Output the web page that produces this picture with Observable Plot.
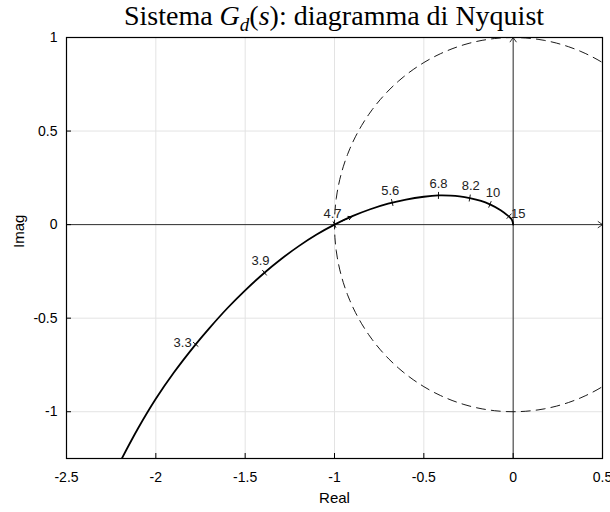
<!DOCTYPE html>
<html><head><meta charset="utf-8">
<script src="https://cdn.jsdelivr.net/npm/d3@7"></script>
<script src="https://cdn.jsdelivr.net/npm/@observablehq/plot@0.6"></script>
<style>
body{margin:0;background:#fff;}
#wrap{position:relative;width:610px;height:512px;}
#title{position:absolute;left:66px;width:536px;top:1px;text-align:center;font-family:"Liberation Serif","DejaVu Serif",serif;font-size:28px;line-height:30px;color:#000;white-space:nowrap;}
#title .sub{font-size:19px;font-style:italic;position:relative;top:6px;}
</style></head><body>
<div id="wrap"><div id="title">Sistema <i>G</i><span class="sub">d</span>(<i>s</i>): diagramma di Nyquist</div><div id="chart"></div></div>
<script>
// axis ticks
const xTicks = [-2.5, -2, -1.5, -1, -0.5, 0, 0.5];
const yTicks = [-1, -0.5, 0, 0.5, 1];
const xDomain = [-2.5, 0.5];
const yDomain = [-1.25, 1];

// Nyquist curve
const curveRe = [-2.193, -2.1, -2.0, -1.9, -1.777, -1.7, -1.6, -1.5, -1.392, -1.3, -1.2, -1.1, -1.0, -0.9, -0.8, -0.7, -0.6, -0.5, -0.418, -0.35, -0.3, -0.243, -0.18, -0.13, -0.07, -0.03, -0.01, -0.003, 0];
const curveIm = [-1.255, -1.09, -0.931, -0.792, -0.640, -0.553, -0.447, -0.351, -0.257, -0.185, -0.115, -0.053, 0.0, 0.045, 0.082, 0.112, 0.134, 0.149, 0.156, 0.155, 0.151, 0.142, 0.127, 0.108, 0.077, 0.048, 0.030, 0.016, 0];

// frequency markers
const freqLabels = ["3.3", "3.9", "4.7", "5.6", "6.8", "8.2", "10", "15"];
const freqRe = [-1.777, -1.392, -1.0, -0.677, -0.418, -0.243, -0.13, -0.023];
const freqIm = [-0.640, -0.257, 0.0, 0.118, 0.156, 0.142, 0.108, 0.045];

// direction arrow on the curve
const arrowRe = [-0.96, -0.905];
const arrowIm = [0.018, 0.042];

// unit circle
const circleCenter = [0, 0];
const circleRadius = 1;

// layout
const W = 610, H = 512, mL = 66, mR = 8, mT = 37, mB = 54;
const kx = (W - mL - mR) / (xDomain[1] - xDomain[0]);
const ky = (H - mT - mB) / (yDomain[1] - yDomain[0]);

const curve = curveRe.map((x, i) => ({x, y: curveIm[i]}));
const circle = d3.range(0, 361, 2).map(a => ({
  x: circleCenter[0] + circleRadius * Math.cos(a * Math.PI / 180),
  y: circleCenter[1] + circleRadius * Math.sin(a * Math.PI / 180)
}));

// perpendicular tick marks on the curve at frequency markers
function tangentAt(x, y) {
  let best = 0, bd = Infinity;
  for (let i = 0; i < curve.length - 1; i++) {
    const mx = (curve[i].x + curve[i + 1].x) / 2, my = (curve[i].y + curve[i + 1].y) / 2;
    const d = (mx - x) ** 2 + (my - y) ** 2;
    if (d < bd) { bd = d; best = i; }
  }
  const a = curve[best], b = curve[best + 1];
  let px = (b.x - a.x) * kx, py = (b.y - a.y) * ky;
  const n = Math.hypot(px, py);
  return [px / n, py / n];
}
const tickLen = 3.5;
const freqMarks = freqLabels.map((t, i) => {
  const [tx, ty] = tangentAt(freqRe[i], freqIm[i]);
  const nx = -ty, ny = tx;
  return {
    label: t, x: freqRe[i], y: freqIm[i],
    x1: freqRe[i] - nx * tickLen / kx, y1: freqIm[i] - ny * tickLen / ky,
    x2: freqRe[i] + nx * tickLen / kx, y2: freqIm[i] + ny * tickLen / ky
  };
});
// label placement styles
const labelStyle = {
  "3.3": {dx: -4, dy: -2, textAnchor: "end"},
  "3.9": {dx: -4, dy: -12, textAnchor: "middle"},
  "4.7": {dx: -2, dy: -11, textAnchor: "middle"},
  "5.6": {dx: -2, dy: -12, textAnchor: "middle"},
  "6.8": {dx: 0, dy: -12, textAnchor: "middle"},
  "8.2": {dx: 1, dy: -12, textAnchor: "middle"},
  "10": {dx: 3, dy: -12, textAnchor: "middle"},
  "15": {dx: 2, dy: -2, textAnchor: "start"}
};
const labelMarks = freqMarks.map(d => Plot.text([d], {
  x: "x", y: "y", text: "label", fontSize: 13, fill: "#222",
  dx: labelStyle[d.label].dx, dy: labelStyle[d.label].dy,
  textAnchor: labelStyle[d.label].textAnchor, lineAnchor: "middle"
}));

const chart = Plot.plot({
  width: W, height: H,
  marginLeft: mL, marginRight: mR, marginTop: mT, marginBottom: mB,
  style: {fontFamily: "'Liberation Sans', Arial, sans-serif", fontSize: "14px", background: "#fff", color: "#000", overflow: "visible"},
  x: {domain: xDomain},
  y: {domain: yDomain},
  marks: [
    Plot.gridX({ticks: xTicks, stroke: "#e3e3e3", strokeOpacity: 1, strokeWidth: 1}),
    Plot.gridY({ticks: yTicks, stroke: "#e3e3e3", strokeOpacity: 1, strokeWidth: 1}),
    Plot.line(circle, {x: "x", y: "y", stroke: "#000", strokeWidth: 0.9, strokeDasharray: "9,6", clip: true}),
    Plot.arrow([{x1: xDomain[0], y1: 0, x2: xDomain[1], y2: 0}], {x1: "x1", y1: "y1", x2: "x2", y2: "y2", stroke: "#000", strokeWidth: 0.8, headLength: 10, headAngle: 70}),
    Plot.arrow([{x1: 0, y1: yDomain[0], x2: 0, y2: yDomain[1]}], {x1: "x1", y1: "y1", x2: "x2", y2: "y2", stroke: "#000", strokeWidth: 0.8, headLength: 10, headAngle: 70}),
    Plot.line(curve, {x: "x", y: "y", stroke: "#000", strokeWidth: 1.8, curve: "catmull-rom", clip: true}),
    Plot.arrow([{x1: arrowRe[0], y1: arrowIm[0], x2: arrowRe[1], y2: arrowIm[1]}], {x1: "x1", y1: "y1", x2: "x2", y2: "y2", stroke: "#000", strokeWidth: 1, headLength: 9, headAngle: 60}),
    Plot.link(freqMarks, {x1: "x1", y1: "y1", x2: "x2", y2: "y2", stroke: "#000", strokeWidth: 0.9}),
    ...labelMarks,
    Plot.axisX({ticks: xTicks, tickSize: 5, dy: -5, tickFormat: () => "", label: null}),
    Plot.axisX({ticks: xTicks, tickSize: 0, tickPadding: 14, fontSize: 14, tickFormat: d => String(d), label: null}),
    Plot.axisY({ticks: yTicks, tickSize: 5, dx: 5, tickFormat: () => "", label: null}),
    Plot.axisY({ticks: yTicks, tickSize: 0, tickPadding: 9, fontSize: 14, tickFormat: d => String(d), label: null}),
    Plot.frame({stroke: "#000", strokeWidth: 1.2}),
    Plot.text(["Real"], {frameAnchor: "bottom", dy: 40, text: d => d, fontSize: 15, lineAnchor: "middle"}),
    Plot.text(["Imag"], {frameAnchor: "left", dx: -47, rotate: -90, text: d => d, fontSize: 15, lineAnchor: "middle"})
  ]
});
document.getElementById("chart").appendChild(chart);
</script>
</body></html>
